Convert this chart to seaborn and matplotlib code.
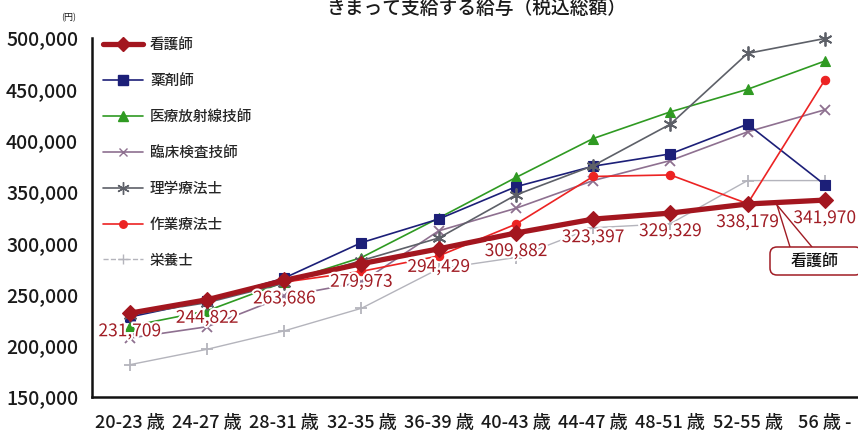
import numpy as np
import pandas as pd
import matplotlib
matplotlib.use("Agg")
import matplotlib.pyplot as plt
import matplotlib.patheffects as pe
from matplotlib.patches import FancyBboxPatch
from matplotlib.lines import Line2D
import seaborn as sns

categories = ['20-23 歳', '24-27 歳', '28-31 歳', '32-35 歳', '36-39 歳',
              '40-43 歳', '44-47 歳', '48-51 歳', '52-55 歳', '56 歳 -']

nurse = [231709, 244822, 263686, 279973, 294429, 309882, 323397, 329329, 338179, 341970]
pharmacist = [228000, 244000, 266000, 300500, 323500, 355000, 375000, 387000, 416000, 357000]
radiology = [219000, 234000, 262000, 286000, 324500, 364000, 402000, 428000, 450000, 477500]
clinical_lab = [207500, 218500, 248000, 262000, 312000, 334000, 361000, 380500, 408500, 430000]
physio = [230000, 242000, 261000, 283000, 305000, 347000, 375500, 416000, 485000, 499500]
occupational = [232000, 244500, 262000, 272500, 287500, 318500, 365000, 366500, 338500, 459000]
dietitian = [181500, 196500, 214500, 236500, 275000, 286000, 315000, 319000, 361000, 361000]

series_names = ['看護師', '薬剤師', '医療放射線技師', '臨床検査技師', '理学療法士', '作業療法士', '栄養士']
series_values = [nurse, pharmacist, radiology, clinical_lab, physio, occupational, dietitian]

title = 'きまって支給する給与（税込総額）'
yticks = [150000, 200000, 250000, 300000, 350000, 400000, 450000, 500000]

styles = {
    '看護師': dict(color='#a3161f', lw=3.8, marker='D', ms=8, z=10),
    '薬剤師': dict(color='#1c1f78', lw=1.2, marker='s', ms=7.5, z=6),
    '医療放射線技師': dict(color='#2f9a22', lw=1.2, marker='^', ms=7.5, z=5),
    '臨床検査技師': dict(color='#8e7090', lw=1.2, marker='x', ms=7, z=4),
    '理学療法士': dict(color='#5d6068', lw=1.2, marker=(6, 2, 0), ms=10, z=7),
    '作業療法士': dict(color='#ec2323', lw=1.2, marker='o', ms=6, z=8),
    '栄養士': dict(color='#b4b4bc', lw=1.0, marker='+', ms=8, z=3),
}

sns.set_style('white')
plt.rcParams['font.family'] = ['Noto Sans CJK JP', 'DejaVu Sans']

fig = plt.figure(figsize=(8.58, 4.30), dpi=100)
ax = fig.add_axes([92/858, 1-397/430, 1-92/858, (397-38)/430])

rows = []
for name, vals in zip(series_names, series_values):
    for c, v in zip(categories, vals):
        rows.append({'age': c, 'salary': v, 'job': name})
df = pd.DataFrame(rows)

for name in series_names[::-1]:
    st = styles[name]
    sub = df[df['job'] == name]
    sns.lineplot(data=sub, x='age', y='salary', ax=ax, color=st['color'], lw=st['lw'],
                 marker=st['marker'], markersize=st['ms'], markeredgecolor=st['color'],
                 markerfacecolor=st['color'], markeredgewidth=1.3 if st['marker'] in ('x', '+', (6, 2, 0)) else 0.8,
                 zorder=st['z'], label=name, clip_on=False, sort=False)

ax.set_xlim(-0.49, 9.43)
ax.set_ylim(150000, 500000)
ax.set_xlabel('')
ax.set_ylabel('')
ax.set_yticks(yticks)
ax.set_yticklabels([f'{v:,}' for v in yticks], fontsize=14, color='#1a1a1a', fontweight='medium')
ax.set_xticks(range(len(categories)))
ax.set_xticklabels(categories, fontsize=13, color='#1a1a1a', fontweight='medium')
ax.set_xticks(np.arange(len(categories) - 1) + 0.5, minor=True)
ax.tick_params(axis='x', which='major', length=0, pad=12)
ax.tick_params(axis='x', which='minor', direction='in', length=6, width=1.8, color='#111111')
ax.tick_params(axis='y', which='major', direction='in', length=6, width=1.8, color='#111111', pad=10)
for s in ['top', 'right']:
    ax.spines[s].set_visible(False)
for s in ['left', 'bottom']:
    ax.spines[s].set_linewidth(1.8)
    ax.spines[s].set_color('#111111')

# nurse value labels
for i, v in enumerate(nurse):
    t = ax.annotate(f'{v:,}', xy=(i, v), xytext=(0, -13), textcoords='offset points',
                    ha='center', va='center', fontsize=12.5, color='#a01c24', zorder=20)
    t.set_path_effects([pe.withStroke(linewidth=3, foreground='white')])

# legend
handles = []
for name in series_names:
    st = styles[name]
    handles.append(Line2D([0], [0], color=st['color'], lw=st['lw'], marker=st['marker'],
                          markersize=st['ms'] * 0.9, markerfacecolor=st['color'],
                          markeredgecolor=st['color'],
                          linestyle='--' if name == '栄養士' else '-'))
leg = ax.legend(handles, series_names, loc='upper left', bbox_to_anchor=(96/858, 1-31/430),
                bbox_transform=fig.transFigure, frameon=False,
                labelspacing=1.5, handlelength=2.7, handletextpad=0.5, borderpad=0,
                prop={'weight': 'medium', 'size': 10.5})

fig.text(476/858, 1-8/430, title, ha='center', va='center', fontsize=13.5, color='#1a1a1a',
         fontweight='medium')
fig.text(69/858, 1-18/430, '(円)', ha='center', va='center', fontsize=6.5, color='#1a1a1a')

# callout box for nurse
box = FancyBboxPatch((7.70, 4.30-2.75), 0.92, 0.28, boxstyle='round,pad=0,rounding_size=0.07',
                     transform=fig.dpi_scale_trans, facecolor='white', edgecolor='#a01c24',
                     lw=1.1, clip_on=False, zorder=30)
fig.patches.append(box)
fig.text(8.15/8.58, (4.30-2.62)/4.30, '看護師', ha='center', va='center', fontsize=11.5,
         color='#111111', zorder=31, fontweight='medium')
fig.add_artist(Line2D([7.77, 7.90], [4.30-2.05, 4.30-2.47], transform=fig.dpi_scale_trans,
                      color='#a01c24', lw=1.0))
fig.add_artist(Line2D([7.77, 8.12], [4.30-2.05, 4.30-2.47], transform=fig.dpi_scale_trans,
                      color='#a01c24', lw=1.0))

fig.savefig('out.png', dpi=100)
